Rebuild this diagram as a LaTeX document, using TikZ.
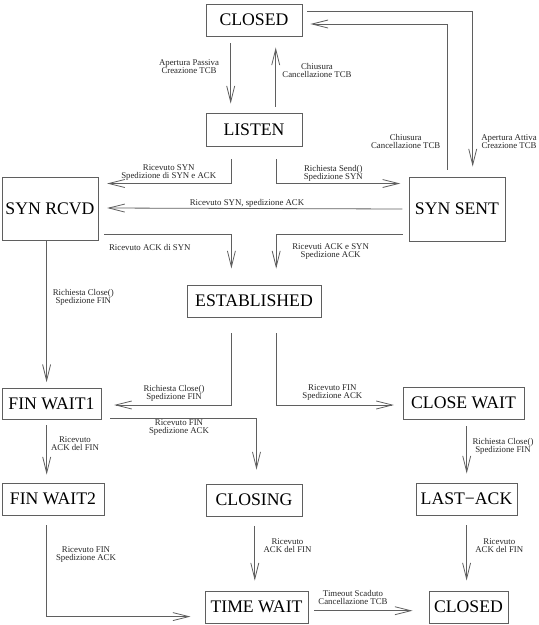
\documentclass[tikz,border=0pt]{standalone}
\usepackage{fontspec}
\setmainfont{Liberation Serif}
\usetikzlibrary{arrows.meta}
\definecolor{ln}{RGB}{95,95,95}
\begin{document}
\begin{tikzpicture}[x=1pt,y=-1pt,
  state/.style={draw=ln,line width=0.9pt,inner sep=0pt,font=\fontsize{17.7}{20}\selectfont,text=black},
  lbl/.style={align=center,inner sep=0pt,font=\fontsize{8.8}{8}\selectfont,text=black!85},
  arr/.style={draw=ln,line width=0.8pt,-{Straight Barb[length=16pt,width=8pt]}},
  ln/.style={draw=ln,line width=0.8pt}]
\useasboundingbox (0,0) rectangle (539,625);
% states
\node[state,minimum width=96pt,minimum height=32pt] (closedT) at (254,20) {CLOSED};
\node[state,minimum width=96pt,minimum height=33pt] (listen) at (254,129.5) {LISTEN};
\node[state,minimum width=96pt,minimum height=63pt] (synrcvd) at (50,208.5) {SYN RCVD};
\node[state,minimum width=96pt,minimum height=64pt] (synsent) at (457,209) {SYN SENT};
\node[state,minimum width=134pt,minimum height=32pt] (established) at (254,301) {ESTABLISHED};
\node[state,minimum width=99pt,minimum height=31pt] (finwait1) at (51.5,403.5) {FIN WAIT1};
\node[state,minimum width=121pt,minimum height=32pt] (closewait) at (463.5,403) {CLOSE WAIT};
\node[state,minimum width=102pt,minimum height=32pt] (finwait2) at (53,499) {FIN WAIT2};
\node[state,minimum width=96pt,minimum height=32pt] (closing) at (254,500) {CLOSING};
\node[state,minimum width=101pt,minimum height=32pt] (lastack) at (466.5,499) {LAST−ACK};
\node[state,minimum width=103pt,minimum height=32pt] (timewait) at (256.5,607) {TIME WAIT};
\node[state,minimum width=79pt,minimum height=32pt] (closedB) at (468.5,607) {CLOSED};
% connectors
\draw[arr] ([xshift=-23.3pt,yshift=-7pt]closedT.south) -- ([xshift=-23.3pt,yshift=9pt]listen.north);
\draw[arr] ([xshift=21.7pt,yshift=6pt]listen.north) -- ([xshift=21.7pt,yshift=-11pt]closedT.south);
\draw[arr] ([xshift=5pt,yshift=8.7pt]closedT.east) -| ([xshift=15.7pt,yshift=10pt]synsent.north);
\draw[arr] ([xshift=-9.3pt,yshift=7pt]synsent.north) |- ([xshift=8pt,yshift=-4pt]closedT.east);
\draw[arr] ([xshift=-22.6pt,yshift=-12.6pt]listen.south) |- ([xshift=8.7pt,yshift=25pt]synrcvd.east);
\draw[arr] ([xshift=22.2pt,yshift=-12.6pt]listen.south) |- ([xshift=-8.3pt,yshift=25.5pt]synsent.west);
\draw[arr] ([xshift=-6.3pt]synsent.west) -- ([xshift=8.7pt,yshift=0.5pt]synrcvd.east);
\draw[arr] ([xshift=6pt,yshift=-25.5pt]synrcvd.east) -| ([xshift=-22.6pt,yshift=16pt]established.north);
\draw[arr] ([xshift=-6pt,yshift=-25pt]synsent.west) -| ([xshift=22.2pt,yshift=16pt]established.north);
\draw[arr] ([xshift=-3.4pt]synrcvd.south) -- ([xshift=-4.9pt,yshift=5.4pt]finwait1.north);
\draw[arr] ([xshift=-22.6pt,yshift=-15.6pt]established.south) |- ([xshift=12.6pt,yshift=-1.5pt]finwait1.east);
\draw[arr] ([xshift=22.2pt,yshift=-15.6pt]established.south) |- ([xshift=-8.7pt,yshift=-2pt]closewait.west);
\draw[arr] ([xshift=9pt,yshift=-14.5pt]finwait1.east) -| ([xshift=2.5pt,yshift=14pt]closing.north);
\draw[arr] ([xshift=-4.8pt,yshift=-6pt]finwait1.south) -- ([xshift=-6.3pt,yshift=8pt]finwait2.north);
\draw[arr] ([xshift=3.2pt,yshift=-7pt]closewait.south) -- ([xshift=0.2pt,yshift=9pt]lastack.north);
\draw[arr] ([xshift=-6.5pt,yshift=-10pt]finwait2.south) |- ([xshift=-14pt,yshift=-9.6pt]timewait.west);
\draw[arr] ([xshift=0.8pt,yshift=-9.4pt]closing.south) -- ([xshift=-1.7pt,yshift=10pt]timewait.north);
\draw[arr] ([xshift=0.1pt,yshift=-10pt]lastack.south) -- ([xshift=-1.9pt,yshift=10pt]closedB.north);
\draw[arr] ([xshift=6pt,yshift=-3.7pt]timewait.east) -- ([xshift=-16pt,yshift=-3.7pt]closedB.west);
% labels
\node[lbl] (l1) at (189,66.5) {Apertura Passiva\\Creazione TCB};
\node[lbl] (l2) at (317,70) {Chiusura\\Cancellazione TCB};
\node[lbl] (l3) at (405.7,141.7) {Chiusura\\Cancellazione TCB};
\node[lbl] (l4) at (509,141.7) {Apertura Attiva\\Creazione TCB};
\node[lbl] (l5) at (168.7,173) {Ricevuto SYN\\Spedizione di SYN e ACK};
\node[lbl] (l6) at (333.3,173) {Richiesta Send()\\Spedizione SYN};
\node[lbl] (l7) at (247,203) {Ricevuto SYN, spedizione ACK};
\node[lbl] (l8) at (149.8,247) {Ricevuto ACK di SYN};
\node[lbl] (l9) at (330.6,251.4) {Ricevuti ACK e SYN\\Spedizione ACK};
\node[lbl] (l10) at (83.3,297.4) {Richiesta Close()\\Spedizione FIN};
\node[lbl] (l11) at (174,393) {Richiesta Close()\\Spedizione FIN};
\node[lbl] (l12) at (332.3,393) {Ricevuto FIN\\Spedizione ACK};
\node[lbl] (l13) at (179,427.7) {Ricevuto FIN\\Spedizione ACK};
\node[lbl] (l14) at (75,443.5) {Ricevuto\\ACK del FIN};
\node[lbl] (l15) at (503,446.4) {Richiesta Close()\\Spedizione FIN};
\node[lbl] (l16) at (86,555) {Ricevuto FIN\\Spedizione ACK};
\node[lbl] (l17) at (287.5,546) {Ricevuto\\ACK del FIN};
\node[lbl] (l18) at (499.3,546) {Ricevuto\\ACK del FIN};
\node[lbl] (l19) at (353,597) {Timeout Scaduto\\Cancellazione TCB};
\end{tikzpicture}
\end{document}
